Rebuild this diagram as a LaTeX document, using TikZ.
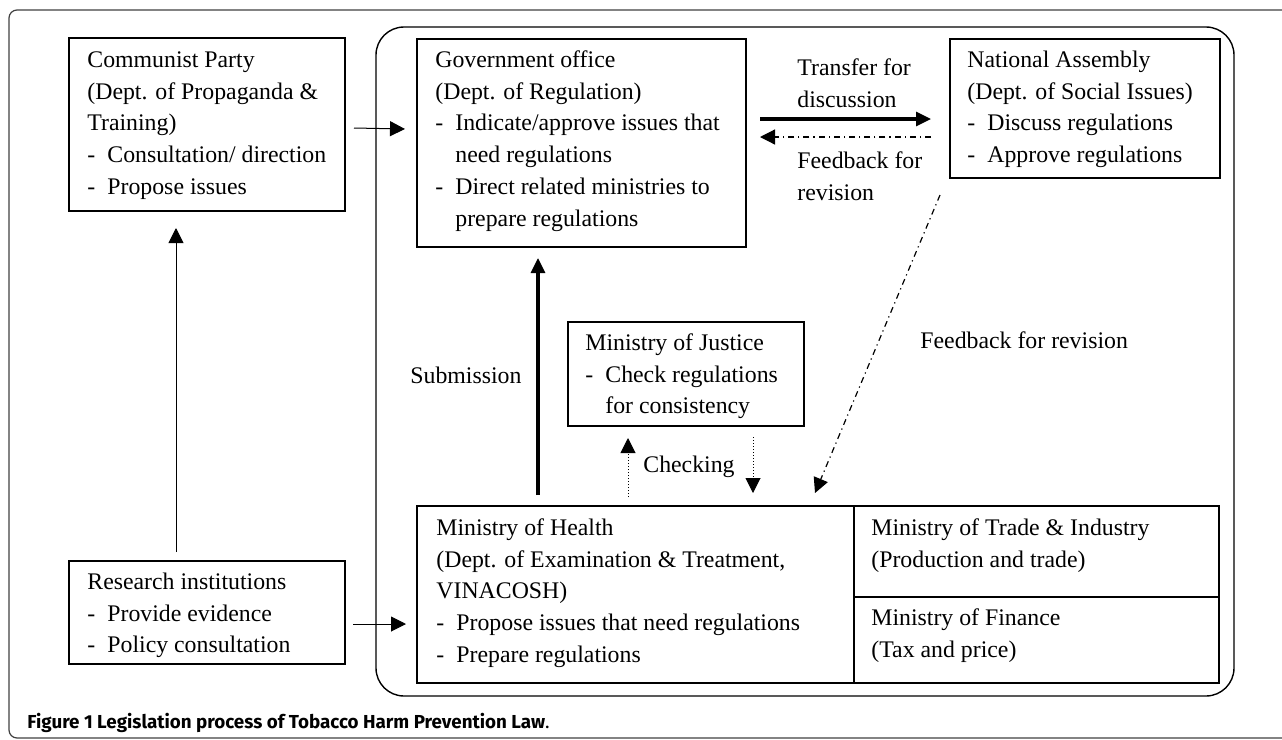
\documentclass[tikz,border=0pt]{standalone}
\usepackage{fontspec}
\setmainfont{Liberation Serif}
\newfontfamily\capfont{Fira Sans}
\usepackage{tikz}
\usetikzlibrary{arrows.meta, calc}

\newcommand{\itemdash}[1]{\makebox[10pt][l]{-}#1}
\newcommand{\itemcont}{\hspace*{10pt}}

\begin{document}
\begin{tikzpicture}[x=0.5pt, y=-0.5pt,
        box/.style={draw, line width=0.7pt, inner sep=0pt, outer sep=0pt, anchor=north west},
        txt/.style={font=\fontsize{11.9pt}{15.85pt}\selectfont, align=left, inner sep=0pt, anchor=north west},
        lbl/.style={font=\fontsize{11.9pt}{15.85pt}\selectfont, inner sep=0pt, anchor=base west},
        thinarr/.style={line width=0.5pt, -{Triangle[length=7.5pt,width=7.5pt]}},
        thickarr/.style={line width=1.6pt, -{Triangle[length=7.5pt,width=7pt]}},
        dotarr/.style={line width=0.5pt, dash pattern=on 0.5pt off 1pt, -{Triangle[length=7.5pt,width=7.5pt]}},
        dasharr/.style={line width=0.6pt, dash pattern=on 3pt off 2pt on 0.6pt off 2pt, -{Triangle[length=7.5pt,width=7.5pt]}}]
        \useasboundingbox (0,0) rectangle (1282,740);
        \draw[black!75, line width=0.6pt, rounded corners=4pt] (9,10) rectangle (1290,738);
        \draw[line width=0.7pt, rounded corners=14pt] (376,27) rectangle (1234,696);

        \node[box, minimum width=138pt, minimum height=86.5pt] (comm) at (69,38) {};
        \node[box, minimum width=164.5pt, minimum height=104pt] (gov) at (417,39) {};
        \node[box, minimum width=135pt, minimum height=69.5pt] (na) at (950,39) {};
        \node[box, minimum width=118pt, minimum height=52pt] (just) at (568,322) {};
        \node[box, minimum width=218.5pt, minimum height=88.5pt] (moh) at (417,506) {};
        \node[box, minimum width=182.5pt, minimum height=45.5pt] (trade) at (854,506) {};
        \node[box, minimum width=182.5pt, minimum height=43pt] (fin) at (854,597) {};
        \node[box, minimum width=138pt, minimum height=51.5pt] (res) at (69,561) {};

        \node[txt] (commtxt) at ($(comm.north west)+(18,7)$) {\strut Communist Party\\(Dept. of Propaganda \&\\Training)\\\itemdash{Consultation/ direction}\\\itemdash{Propose issues}};
        \node[txt] (govtxt) at ($(gov.north west)+(18,6)$) {\strut Government office\\(Dept. of Regulation)\\\itemdash{Indicate/approve issues that}\\\itemcont need regulations\\\itemdash{Direct related ministries to}\\\itemcont prepare regulations};
        \node[txt] (natxt) at ($(na.north west)+(17,6)$) {\strut National Assembly\\(Dept. of Social Issues)\\\itemdash{Discuss regulations}\\\itemdash{Approve regulations}};
        \node[txt] (justtxt) at ($(just.north west)+(17,6)$) {\strut Ministry of Justice\\\itemdash{Check regulations}\\\itemcont for consistency};
        \node[txt] (mohtxt) at ($(moh.north west)+(19,7)$) {\strut Ministry of Health\\(Dept. of Examination \& Treatment,\\VINACOSH)\\\itemdash{Propose issues that need regulations}\\\itemdash{Prepare regulations}};
        \node[txt] (tradetxt) at ($(trade.north west)+(17,7)$) {\strut Ministry of Trade \& Industry\\(Production and trade)};
        \node[txt] (fintxt) at ($(fin.north west)+(17,6)$) {\strut Ministry of Finance\\(Tax and price)};
        \node[txt] (restxt) at ($(res.north west)+(18,6)$) {\strut Research institutions\\\itemdash{Provide evidence}\\\itemdash{Policy consultation}};

        \draw[thinarr] ($(comm.north east)+(9,90)$) -- ($(gov.north west)+(-12,90)$);
        \draw[thinarr] ($(res.north west)+(107,-9)$) -- ($(comm.south west)+(107,17)$);
        \draw[thinarr] ($(res.north east)+(8,63)$) -- ($(moh.north west)+(-11,118)$);
        \draw[thickarr] ($(gov.north east)+(14,80)$) -- ($(na.north west)+(-19,80)$);
        \draw[dasharr] ($(na.north west)+(-19,98)$) -- ($(gov.north east)+(14,98)$);
        \draw[thickarr] ($(moh.north west)+(121,-11)$) -- ($(gov.south west)+(121,11)$);
        \draw[dotarr] ($(just.south west)+(60,71)$) -- ($(just.south west)+(60,12)$);
        \draw[dotarr] ($(just.south west)+(185,11)$) -- ($(moh.north west)+(336,-13)$);
        \draw[dasharr] ($(na.south west)+(-10,17)$) -- ($(moh.north west)+(398,-13)$);

        \node[txt] (transfer) at (797,53) {\strut Transfer for\\discussion};
        \node[txt] (feedback) at (797,146) {\strut Feedback for\\revision};
        \node[lbl] (feedback2) at (920,348) {Feedback for revision};
        \node[lbl] (submission) at (410,383) {Submission};
        \node[lbl] (checking) at (643,472) {Checking};
        \node[anchor=base west, inner sep=0pt, font=\capfont\fontsize{9.4pt}{11pt}\selectfont] (caption) at (27,728) {\bfseries Figure 1 Legislation process of Tobacco Harm Prevention Law\mdseries.};
\end{tikzpicture}
\end{document}
